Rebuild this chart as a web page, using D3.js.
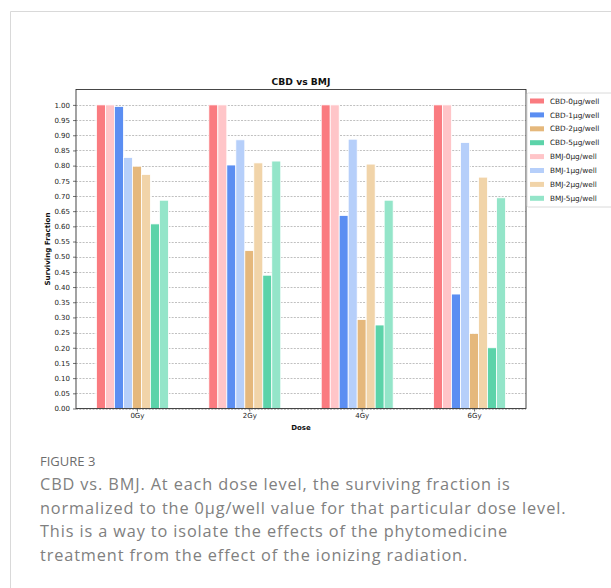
<!DOCTYPE html>
<html><head><meta charset="utf-8">
<script src="https://cdn.jsdelivr.net/npm/d3@7"></script>
<style>
body{margin:0;background:#fff;}
svg{display:block;}
</style></head>
<body>
<svg id="c" width="611" height="588"></svg>
<script>
const doses = ["0Gy","2Gy","4Gy","6Gy"];
const seriesNames = ["CBD-0µg/well","BMJ-0µg/well","CBD-1µg/well","BMJ-1µg/well","CBD-2µg/well","BMJ-2µg/well","CBD-5µg/well","BMJ-5µg/well"];
const legendOrder = ["CBD-0µg/well","CBD-1µg/well","CBD-2µg/well","CBD-5µg/well","BMJ-0µg/well","BMJ-1µg/well","BMJ-2µg/well","BMJ-5µg/well"];
const cbd0 = [1.00, 1.00, 1.00, 1.00];
const bmj0 = [1.00, 1.00, 1.00, 1.00];
const cbd1 = [0.995, 0.802, 0.636, 0.377];
const bmj1 = [0.827, 0.885, 0.887, 0.876];
const cbd2 = [0.798, 0.520, 0.293, 0.247];
const bmj2 = [0.771, 0.809, 0.805, 0.762];
const cbd5 = [0.608, 0.439, 0.275, 0.200];
const bmj5 = [0.686, 0.815, 0.686, 0.694];
const seriesValues = [cbd0, bmj0, cbd1, bmj1, cbd2, bmj2, cbd5, bmj5];
const colors = {"CBD-0µg/well":"#fa7b80","BMJ-0µg/well":"#ffc5c8","CBD-1µg/well":"#5b8ef2","BMJ-1µg/well":"#b6cffa","CBD-2µg/well":"#e5b87c","BMJ-2µg/well":"#f1d4a9","CBD-5µg/well":"#5cd3a9","BMJ-5µg/well":"#94e5c9"};
const yTicks = d3.range(0, 21).map(i => i * 0.05);
const title = "CBD vs BMJ";
const xLabel = "Dose";
const yLabel = "Surviving Fraction";
const figLabel = "FIGURE 3";
const captionLines = ["CBD vs. BMJ. At each dose level, the surviving fraction is","normalized to the 0µg/well value for that particular dose level.","This is a way to isolate the effects of the phytomedicine","treatment from the effect of the ionizing radiation."];

const svg = d3.select("#c");
// card border
svg.append("path").attr("d","M10.5,588 V11.5 H611").attr("fill","none").attr("stroke","#d9d9d9").attr("stroke-width",1);

const L = 76, R = 526, T = 89.5, B = 408.5;
const barW = 0.08;
const x = d3.scaleLinear().domain([-0.542, 3.462]).range([L, R]);
const y = d3.scaleLinear().domain([0, 1.0507]).range([B, T]);

const tickFont = "DejaVu Sans, sans-serif";
// grid
svg.append("g").selectAll("line").data(yTicks).join("line")
  .attr("x1", L).attr("x2", R)
  .attr("y1", d => Math.round(y(d)) + 0.5).attr("y2", d => Math.round(y(d)) + 0.5)
  .attr("stroke", "#b0b0b0").attr("stroke-width", 0.8).attr("stroke-dasharray", "2,1.3");

// bars
const bars = [];
seriesNames.forEach((s, i) => {
  seriesValues[i].forEach((v, g) => bars.push({s, i, g, v}));
});
svg.append("g").selectAll("rect").data(bars).join("rect")
  .attr("x", d => x(d.g + (d.i - 4) * barW - barW / 2))
  .attr("width", d => x(barW) - x(0))
  .attr("y", d => y(d.v))
  .attr("height", d => y(0) - y(d.v))
  .attr("fill", d => colors[d.s])
  .attr("stroke", "#fff").attr("stroke-width", 0.8);

// axes
const yAxis = d3.axisLeft(y).tickValues(yTicks).tickFormat(d3.format(".2f")).tickSize(3).tickPadding(3);
const ga = svg.append("g").attr("transform", `translate(${L},0)`).call(yAxis);
ga.select(".domain").remove();
ga.selectAll("text").attr("font-family", tickFont).attr("font-size", 7).attr("fill", "#222");
ga.selectAll("line").attr("stroke", "#333").attr("stroke-width", 0.7);

const xAxis = d3.axisBottom(x).tickValues([0,1,2,3]).tickFormat((d) => doses[d]).tickSize(3).tickPadding(2);
const gx = svg.append("g").attr("transform", `translate(0,${B})`).call(xAxis);
gx.select(".domain").remove();
gx.selectAll("text").attr("font-family", tickFont).attr("font-size", 7).attr("fill", "#222");
gx.selectAll("line").attr("stroke", "#333").attr("stroke-width", 0.7);

// frame
svg.append("rect").attr("x", L).attr("y", T).attr("width", R - L).attr("height", B - T)
  .attr("fill", "none").attr("stroke", "#333").attr("stroke-width", 0.9);

// title and labels
svg.append("text").attr("x", (L + R) / 2).attr("y", 85).attr("text-anchor", "middle")
  .attr("font-family", tickFont).attr("font-weight", "bold").attr("font-size", 9.2).attr("fill", "#111").text(title);
svg.append("text").attr("x", (L + R) / 2).attr("y", 429.5).attr("text-anchor", "middle")
  .attr("font-family", tickFont).attr("font-weight", "bold").attr("font-size", 7).attr("fill", "#111").text(xLabel);
svg.append("text").attr("transform", `translate(50,${(T + B) / 2}) rotate(-90)`).attr("text-anchor", "middle")
  .attr("font-family", tickFont).attr("font-weight", "bold").attr("font-size", 7.1).attr("fill", "#111").text(yLabel);

// legend
const lg = svg.append("g").attr("transform", "translate(527,93)");
lg.append("rect").attr("x", 0).attr("y", 0).attr("width", 100).attr("height", 114)
  .attr("fill", "#fff").attr("stroke", "#d0d0d0").attr("stroke-width", 0.8).attr("rx", 1.5);
legendOrder.forEach((s, i) => {
  const row = lg.append("g").attr("transform", `translate(0,${8 + i * 13.9})`);
  row.append("rect").attr("x", 3).attr("y", -2.5).attr("width", 14).attr("height", 5).attr("fill", colors[s]);
  row.append("text").attr("x", 23).attr("y", 2.6).attr("font-family", tickFont).attr("font-size", 7.3).attr("fill", "#222").text(s);
});

// caption
svg.append("text").attr("x", 40).attr("y", 465.5).attr("font-family", "Open Sans, sans-serif").attr("font-size", 13)
  .attr("fill", "#6d6d6d").text(figLabel);
captionLines.forEach((t, i) => {
  svg.append("text").attr("x", 40).attr("y", 490 + i * 23.6).attr("font-family", "Open Sans, sans-serif")
    .attr("font-size", 16.3).attr("letter-spacing", 0.88).attr("fill", "#808080").text(t);
});
</script>
</body></html>
